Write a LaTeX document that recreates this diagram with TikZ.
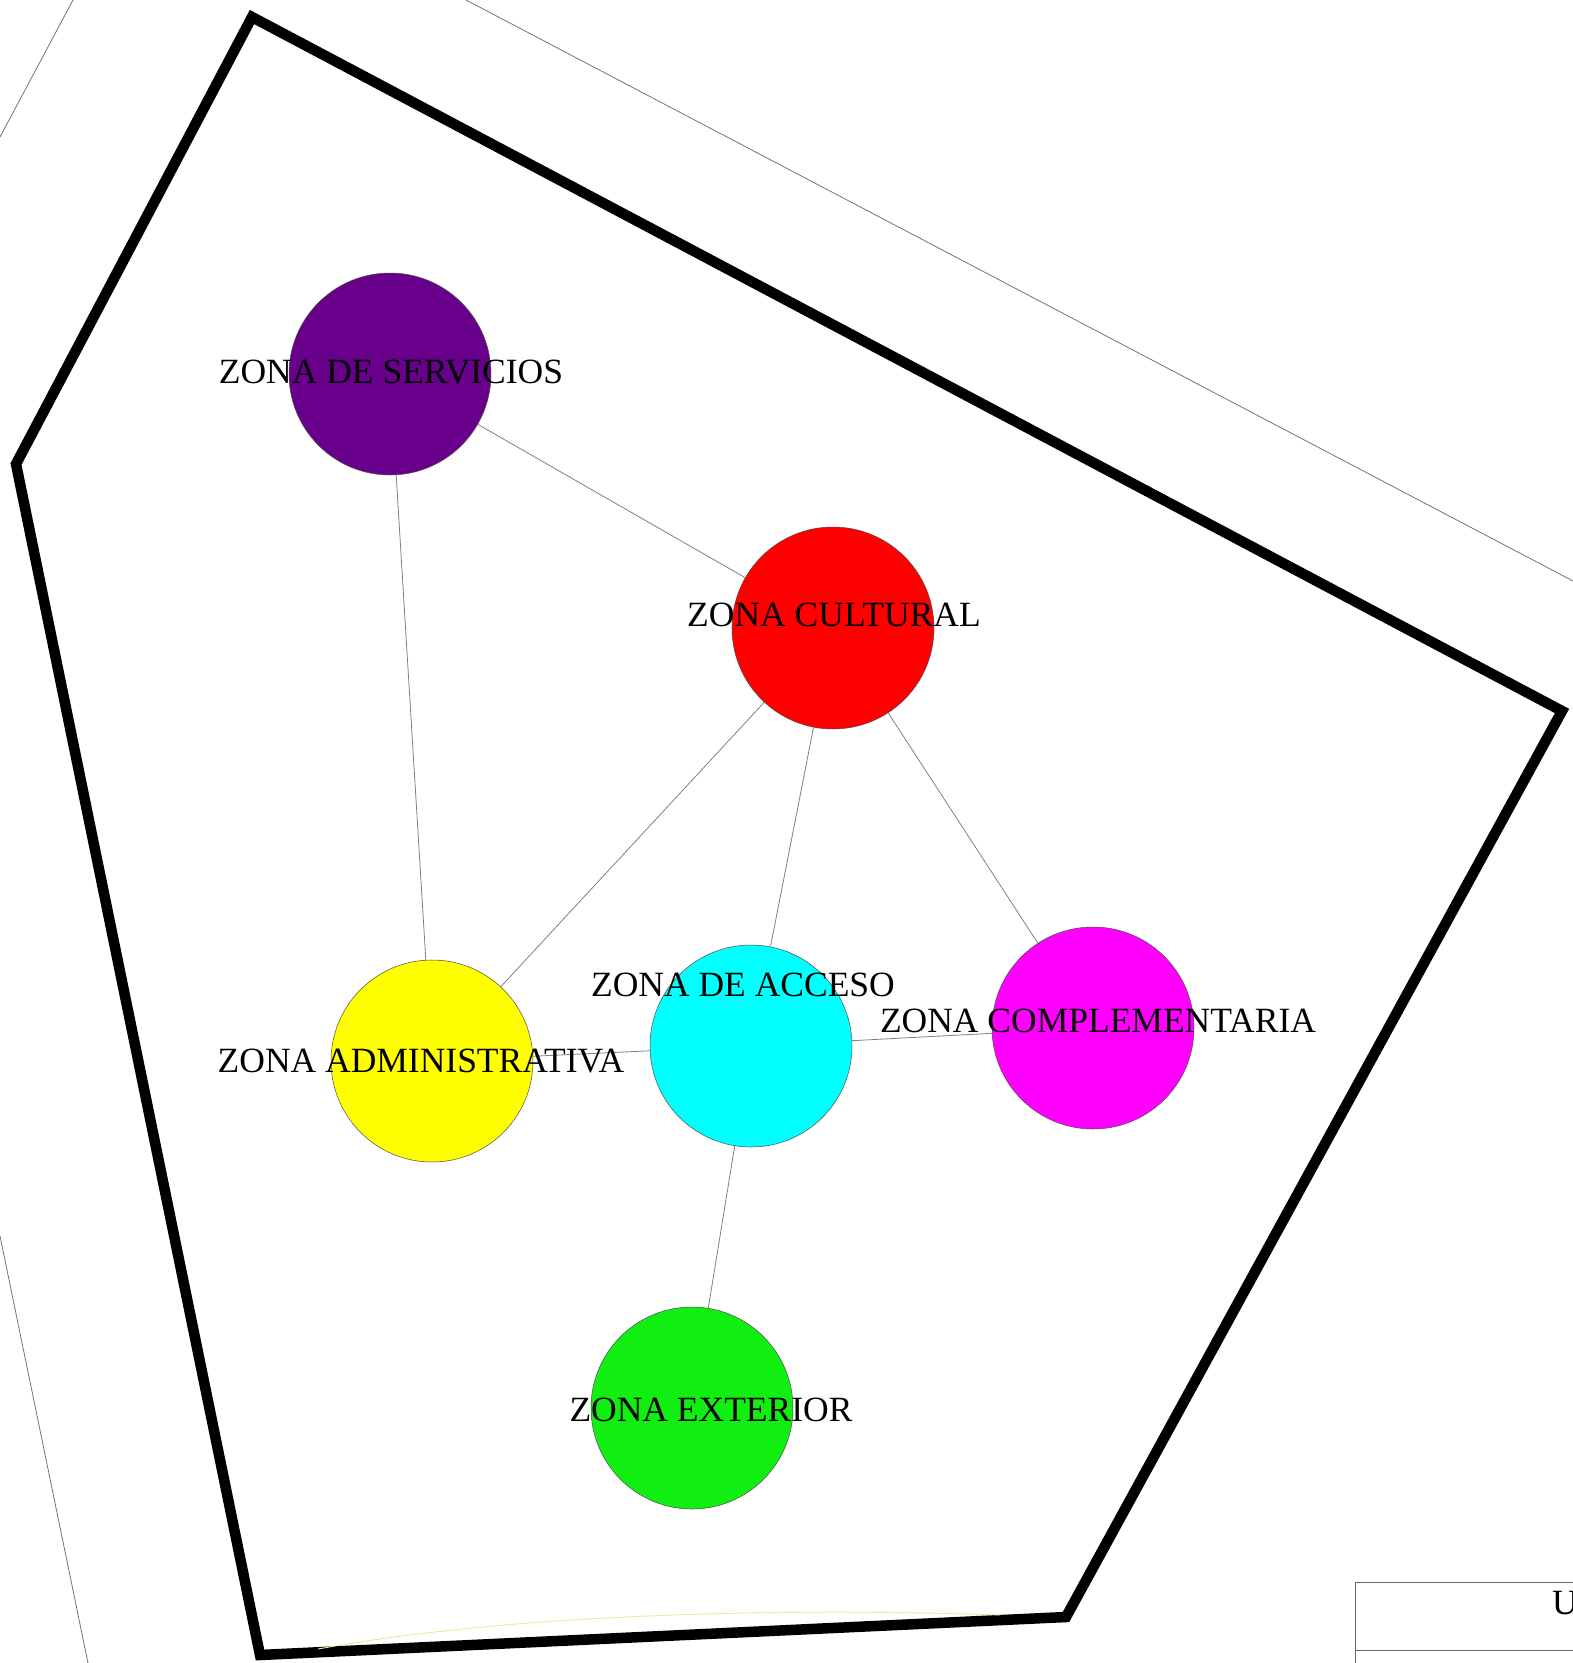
\documentclass[tikz,border=0pt]{standalone}
\usepackage{fontspec}
\setmainfont{Liberation Serif}
\definecolor{cpurple}{RGB}{104,0,140}
\definecolor{cred}{RGB}{255,0,0}
\definecolor{cyellow}{RGB}{255,255,0}
\definecolor{ccyan}{RGB}{0,255,255}
\definecolor{cmagenta}{RGB}{255,0,255}
\definecolor{cgreen}{RGB}{17,238,17}
\definecolor{cpale}{RGB}{225,240,150}
\begin{document}
\begin{tikzpicture}[x=1pt,y=-1pt,
  zone/.style={circle,draw=black!70,line width=0.5pt,minimum size=202pt,inner sep=0pt},
  lbl/.style={font=\fontsize{35.5}{35.5}\selectfont,inner sep=0pt,text=black},
  edge/.style={draw=black!50,line width=0.8pt},
  site/.style={draw=black!55,line width=0.8pt},
  border/.style={line width=10.5pt,line join=miter}]
\useasboundingbox (0,0) rectangle (1573,1663);
% site lines
\coordinate (s1a) at (73,0); \coordinate (s1b) at (0,137);
\coordinate (s2a) at (466,0); \coordinate (s2b) at (1573,581);
\coordinate (s3a) at (0,1236); \coordinate (s3b) at (88,1663);
\draw[site] (s1a) -- (s1b);
\draw[site] (s2a) -- (s2b);
\draw[site] (s3a) -- (s3b);
% boundary polygon
\coordinate (p1) at (252,17);
\coordinate (p2) at (1562,711);
\coordinate (p3) at (1066,1617);
\coordinate (p4) at (260,1655);
\coordinate (p5) at (16,464);
\draw[border] (p1) -- (p2) -- (p3) -- (p4) -- (p5) -- cycle;
% faint yellow curve
\coordinate (y1) at (318,1649); \coordinate (y2) at (1000,1615);
\draw[cpale,line width=0.9pt] (y1) .. controls (520,1612) and (800,1608) .. (y2);
% table corner (cut by the page edge, as in the reference)
\coordinate (t1) at (1355,1663); \coordinate (t2) at (1355,1582);
\coordinate (t3) at (1573,1582); \coordinate (t4) at (1355,1650); \coordinate (t5) at (1573,1650);
\draw[draw=black!60,line width=0.8pt] (t1) -- (t2) -- (t3);
\draw[draw=black!60,line width=0.8pt] (t4) -- (t5);
\node[lbl,anchor=west] (tu) at (1552,1603) {U};
% zones
\node[zone,fill=cpurple] (serv) at (390,374) {};
\node[zone,fill=cred] (cult) at (833,628) {};
\node[zone,fill=cyellow] (adm) at (432,1061) {};
\node[zone,fill=ccyan] (acc) at (751,1046) {};
\node[zone,fill=cmagenta] (comp) at (1093,1028) {};
\node[zone,fill=cgreen] (ext) at (692,1408) {};
% edges
\draw[edge] (serv) -- (cult);
\draw[edge] (serv) -- (adm);
\draw[edge] (cult) -- (adm);
\draw[edge] (cult) -- (acc);
\draw[edge] (cult) -- (comp);
\draw[edge] (adm) -- (acc);
\draw[edge] (acc) -- (comp);
\draw[edge] (acc) -- (ext);
% labels
\node[lbl] (lserv) at (391,372) {ZONA DE SERVICIOS};
\node[lbl] (lcult) at (834,615) {ZONA CULTURAL};
\node[lbl] (lacc) at (743,985) {ZONA DE ACCESO};
\node[lbl] (lcomp) at (1098,1021) {ZONA COMPLEMENTARIA};
\node[lbl] (ladm) at (421,1061) {ZONA ADMINISTRATIVA};
\node[lbl] (lext) at (711,1410) {ZONA EXTERIOR};
\end{tikzpicture}
\end{document}
